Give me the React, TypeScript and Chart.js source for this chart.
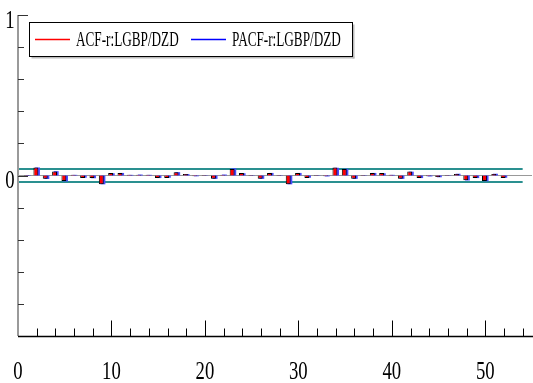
import React, { useEffect, useRef } from "react";
import { Chart, registerables } from "chart.js";

Chart.register(...registerables);

const lags = Array.from({ length: 52 }, (_, i) => i + 1);
const acfValues = [
  0.003, 0.05, -0.02, 0.025, -0.035, 0.005, -0.015, -0.015, -0.055, 0.015,
  0.015, 0.005, 0.005, 0.005, -0.015, -0.015, 0.02, 0.01, -0.005, 0.003,
  -0.02, 0.005, 0.04, 0.015, 0.003, -0.02, 0.015, 0.003, -0.055, 0.015,
  -0.015, 0.003, -0.005, 0.05, 0.04, -0.02, 0.003, 0.015, 0.015, 0.005,
  -0.02, 0.025, -0.015, -0.005, -0.01, 0.003, 0.01, -0.03, -0.015, -0.035,
  0.01, -0.015,
];
const pacfValues = [
  0.003, 0.05, -0.022, 0.027, -0.037, 0.004, -0.014, -0.017, -0.055, 0.014,
  0.016, 0.004, 0.006, 0.004, -0.016, -0.014, 0.021, 0.009, -0.005, 0.002,
  -0.021, 0.006, 0.045, 0.014, 0.002, -0.021, 0.016, 0.002, -0.055, 0.016,
  -0.014, 0.002, -0.006, 0.048, 0.042, -0.021, 0.002, 0.016, 0.014, 0.004,
  -0.021, 0.024, -0.016, -0.006, -0.011, 0.002, 0.011, -0.031, -0.016, -0.036,
  0.011, -0.014,
];
const confBand = 0.04;
const bandEndLag = 54;
const xTickLabels = [0, 10, 20, 30, 40, 50];
const yTickLabels = [1, 0];
const seriesNames = ["ACF-r:LGBP/DZD", "PACF-r:LGBP/DZD"];

const SERIF = "'Liberation Serif', 'Times New Roman', serif";

const axesPlugin = {
  id: "customAxes",
  afterDraw(chart: any) {
    const ctx = chart.ctx as CanvasRenderingContext2D;
    const xs = chart.scales.x;
    const ys = chart.scales.y;
    const ca = chart.chartArea;
    ctx.save();
    // y axis line
    ctx.strokeStyle = "#9a9a9a";
    ctx.lineWidth = 2;
    ctx.beginPath();
    ctx.moveTo(ca.left, ys.getPixelForValue(1));
    ctx.lineTo(ca.left, ys.getPixelForValue(-1));
    ctx.stroke();
    // y ticks
    ctx.strokeStyle = "#333";
    ctx.lineWidth = 1;
    for (let i = -5; i <= 5; i++) {
      const v = i * 0.2;
      const py = Math.round(ys.getPixelForValue(v)) + 0.5;
      const len = i === 5 || i === 0 ? 10 : 6;
      ctx.beginPath();
      ctx.moveTo(ca.left, py);
      ctx.lineTo(ca.left + len, py);
      ctx.stroke();
    }
    // x axis line
    const by = Math.round(ys.getPixelForValue(-1)) + 0.5;
    ctx.strokeStyle = "#000";
    ctx.lineWidth = 1.5;
    ctx.beginPath();
    ctx.moveTo(ca.left, by);
    ctx.lineTo(ca.right + 2, by);
    ctx.stroke();
    ctx.lineWidth = 1;
    for (let v = 2; v <= 54; v += 2) {
      const px = Math.round(xs.getPixelForValue(v)) + 0.5;
      const len = v % 10 === 0 ? 16 : 8;
      ctx.beginPath();
      ctx.moveTo(px, by);
      ctx.lineTo(px, by - len);
      ctx.stroke();
    }
    // labels
    ctx.fillStyle = "#000";
    ctx.font = "26px " + SERIF;
    ctx.textAlign = "center";
    ctx.textBaseline = "middle";
    const sx = 0.72;
    for (const t of xTickLabels) {
      const px = xs.getPixelForValue(t);
      ctx.save();
      ctx.translate(px, by + 36);
      ctx.scale(sx, 1);
      ctx.fillText(String(t), 0, 0);
      ctx.restore();
    }
    for (const t of yTickLabels) {
      const py = ys.getPixelForValue(t);
      ctx.save();
      ctx.translate(10, py + 6);
      ctx.scale(sx, 1);
      ctx.fillText(String(t), 0, 0);
      ctx.restore();
    }
    // legend
    const lx = 29.5, ly = 22.5, lw = 323, lh = 34;
    ctx.fillStyle = "#bbb";
    ctx.fillRect(lx + 2, ly + lh, lw, 2);
    ctx.fillRect(lx + lw, ly + 2, 2, lh);
    ctx.fillStyle = "#fff";
    ctx.fillRect(lx, ly, lw, lh);
    ctx.strokeStyle = "#000";
    ctx.lineWidth = 1;
    ctx.strokeRect(lx, ly, lw, lh);
    const colors = ["#ff0000", "#0000ff"];
    const starts = [35, 191];
    ctx.font = "20px " + SERIF;
    ctx.textAlign = "left";
    ctx.textBaseline = "middle";
    for (let i = 0; i < 2; i++) {
      ctx.strokeStyle = colors[i];
      ctx.lineWidth = 1.5;
      ctx.beginPath();
      ctx.moveTo(starts[i], ly + lh / 2);
      ctx.lineTo(starts[i] + 35, ly + lh / 2);
      ctx.stroke();
      ctx.save();
      ctx.translate(starts[i] + 41, ly + lh / 2 + 1);
      ctx.scale(0.66, 1);
      ctx.fillStyle = "#000";
      ctx.fillText(seriesNames[i], 0, 0);
      ctx.restore();
    }
    ctx.restore();
  },
};

export default function App() {
  const ref = useRef<HTMLCanvasElement | null>(null);
  useEffect(() => {
    if (!ref.current) return;
    const chart = new Chart(ref.current, {
      type: "bar",
      data: {
        datasets: [
          {
            type: "line",
            label: "zero",
            data: [{ x: 0, y: 0 }, { x: 55, y: 0 }],
            borderColor: "#999",
            borderWidth: 1,
            pointRadius: 0,
            order: 5,
          } as any,
          {
            type: "line",
            label: "upper",
            data: [{ x: 0, y: confBand }, { x: bandEndLag, y: confBand }],
            borderColor: "#2a9090",
            borderWidth: 2,
            pointRadius: 0,
            order: 4,
          },
          {
            type: "line",
            label: "lower",
            data: [{ x: 0, y: -confBand }, { x: bandEndLag, y: -confBand }],
            borderColor: "#2a9090",
            borderWidth: 2,
            pointRadius: 0,
            order: 4,
          },
          {
            type: "bar",
            label: seriesNames[0],
            data: lags.map((l, i) => ({ x: l, y: acfValues[i] })),
            backgroundColor: "#ff0000",
            borderColor: "#000",
            borderWidth: 1,
            order: 1,
            categoryPercentage: 0.35,
            barPercentage: 3,
          },
          {
            type: "bar",
            label: seriesNames[1],
            data: lags.map((l, i) => ({ x: l, y: pacfValues[i] })),
            backgroundColor: "#4a4aff",
            borderWidth: 0,
            order: 2,
            categoryPercentage: 0.35,
            barPercentage: 3,
          },
        ],
      },
      options: {
        responsive: false,
        animation: false,
        devicePixelRatio: 1,
        layout: { padding: { left: 18, right: 1, top: 15, bottom: 47 } },
        plugins: { legend: { display: false }, tooltip: { enabled: false } },
        scales: {
          x: { type: "linear", min: 0, max: 55, offset: false, display: false },
          y: { type: "linear", min: -1, max: 1, display: false },
        },
      },
      plugins: [axesPlugin],
    });
    return () => chart.destroy();
  }, []);
  return (
    <div style={{ position: "fixed", left: 0, top: 0, width: 533, height: 383, background: "#fff" }}>
      <canvas ref={ref} width={533} height={383} />
    </div>
  );
}
